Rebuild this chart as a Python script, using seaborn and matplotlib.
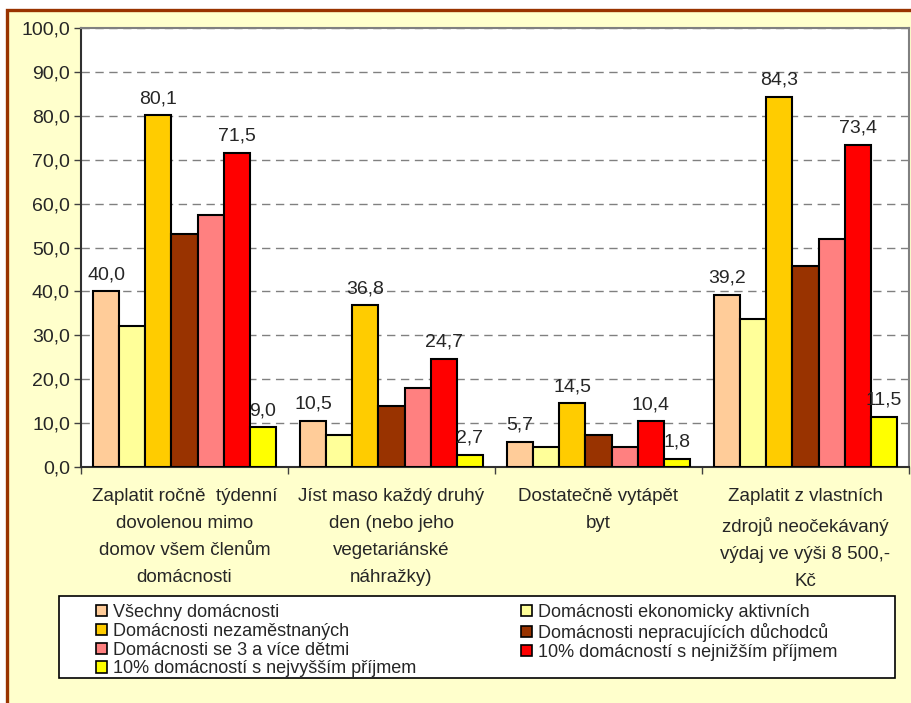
# household deprivation chart: share of households unable to afford items

import pandas as pd
import matplotlib.pyplot as plt
import seaborn as sns
from matplotlib.patches import Patch, Rectangle

# data
kategorie = [
    "Zaplatit ročně  týdenní\ndovolenou mimo\ndomov všem členům\ndomácnosti",
    "Jíst maso každý druhý\nden (nebo jeho\nvegetariánské\nnáhražky)",
    "Dostatečně vytápět\nbyt",
    "Zaplatit z vlastních\nzdrojů neočekávaný\nvýdaj ve výši 8 500,-\nKč",
]
skupiny = [
    "Všechny domácnosti",
    "Domácnosti ekonomicky aktivních",
    "Domácnosti nezaměstnaných",
    "Domácnosti nepracujících důchodců",
    "Domácnosti se 3 a více dětmi",
    "10% domácností s nejnižším příjmem",
    "10% domácností s nejvyšším příjmem",
]
vsechny = [40.0, 10.5, 5.7, 39.2]
aktivni = [32.1, 7.4, 4.5, 33.7]
nezamestnani = [80.1, 36.8, 14.5, 84.3]
duchodci = [53.0, 13.9, 7.4, 45.7]
deti3 = [57.5, 18.1, 4.5, 51.9]
nejnizsi = [71.5, 24.7, 10.4, 73.4]
nejvyssi = [9.0, 2.7, 1.8, 11.5]
barvy = ["#FFCC99", "#FFFF99", "#FFCC00", "#993300", "#FF8080", "#FF0000", "#FFFF00"]
# series that carry value labels
popisky = [0, 2, 5, 6]

hodnoty = [vsechny, aktivni, nezamestnani, duchodci, deti3, nejnizsi, nejvyssi]
rows = []
for s, vals in zip(skupiny, hodnoty):
    for k, v in zip(kategorie, vals):
        rows.append({"kategorie": k, "skupina": s, "hodnota": v})
df = pd.DataFrame(rows)

sns.set_style("white")
plt.rcParams["font.family"] = ["Liberation Sans", "DejaVu Sans"]

W, H = 911, 703
fig = plt.figure(figsize=(W / 100, H / 100), dpi=100)
fig.patch.set_facecolor("white")
# pale yellow chart area with brown frame
fig.patches.append(Rectangle((6.5 / W, -0.05), 1.1, 1 - 9.5 / H + 0.05, transform=fig.transFigure,
                             facecolor="#FFFFCC", edgecolor="#993300", linewidth=2.4, zorder=-10))

ax = fig.add_axes([81 / W, 1 - 467 / H, 828 / W, 439 / H])
ax.set_facecolor("white")
sns.barplot(data=df, x="kategorie", y="hodnota", hue="skupina", palette=barvy,
            order=kategorie, hue_order=skupiny, width=0.884, gap=0, saturation=1,
            edgecolor="black", linewidth=1.5, legend=False, ax=ax, zorder=3)

for i in popisky:
    cont = ax.containers[i]
    ax.bar_label(cont, labels=[f"{v:.1f}".replace(".", ",") for v in hodnoty[i]],
                 padding=6, fontsize=14, zorder=4)

ax.set_ylim(0, 100)
ax.set_xlim(-0.5, 3.5)
ax.set_yticks(range(0, 101, 10))
ax.set_yticklabels([f"{t:.1f}".replace(".", ",") for t in range(0, 101, 10)], fontsize=14)
ax.yaxis.grid(True, color="#808080", linestyle=(0, (6, 4)), linewidth=1)
ax.set_axisbelow(True)
ax.tick_params(axis="y", direction="out", length=5, width=1, color="#404040", left=True, pad=3)

ax.set_xticks(range(4))
ax.set_xticklabels(kategorie, fontsize=13.5, linespacing=1.78, va="top")
ax.set_xticks([-0.5, 0.5, 1.5, 2.5, 3.5], minor=True)
ax.tick_params(axis="x", which="major", length=0, pad=15)
ax.tick_params(axis="x", which="minor", direction="out", length=5, width=1, color="#404040", bottom=True)
ax.set_xlabel("")
ax.set_ylabel("")

for side in ["top", "right"]:
    ax.spines[side].set_color("#808080")
    ax.spines[side].set_linewidth(1.5)
for side in ["left", "bottom"]:
    ax.spines[side].set_color("#303030")
    ax.spines[side].set_linewidth(1.5)

# legend box drawn by hand so it spans like the original
fig.patches.append(Rectangle((59 / W, 1 - 678 / H), 836 / W, 82 / H, transform=fig.transFigure,
                             facecolor="white", edgecolor="black", linewidth=1.2, zorder=1))

# legend: Excel fills rows first, matplotlib fills columns, so reorder
handles = [Patch(facecolor=c, edgecolor="black", linewidth=1.2) for c in barvy]
poradi = [0, 2, 4, 6, 1, 3, 5]
leg = fig.legend([handles[i] for i in poradi], [skupiny[i] for i in poradi],
                 loc="upper left", bbox_to_anchor=(96 / W, 1 - 604 / H),
                 ncol=2, fontsize=13, frameon=False, borderpad=0, labelspacing=0.1,
                 handlelength=0.6, handleheight=0.6, handletextpad=0.35,
                 borderaxespad=0, columnspacing=5.8)

fig.savefig("out.png", dpi=100)
